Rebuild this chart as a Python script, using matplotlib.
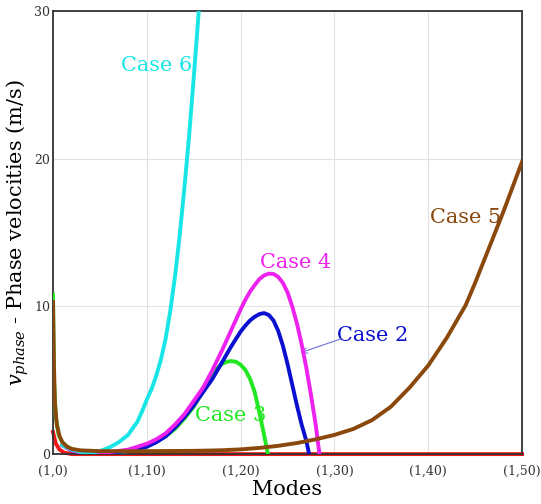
import matplotlib.pyplot as plt

plt.rcParams['font.family'] = ['DejaVu Serif']
plt.rcParams['mathtext.fontset'] = 'dejavuserif'

# mode index n of (1,n) and phase velocity (m/s)
red_x = [0, 0.3, 0.7, 1.2, 2, 50]
red_y = [1.5, 0.7, 0.3, 0.1, 0, 0]

case3_x = [0, 0.1, 0.3, 0.6, 1, 1.5, 2, 3, 4, 6, 8, 10, 12, 13, 14, 15, 16, 16.5, 17, 17.5, 18, 18.5, 19, 19.5, 20, 20.5, 21, 21.5, 22, 22.5, 22.9]
case3_y = [10.8, 5.0, 2.5, 1.3, 0.8, 0.5, 0.35, 0.15, 0.05, 0.05, 0.2, 0.5, 1.2, 1.7, 2.4, 3.2, 4.3, 4.9, 5.4, 5.8, 6.1, 6.25, 6.3, 6.25, 6.05, 5.7, 5.1, 4.2, 2.8, 1.3, 0]

case2_x = [1, 2, 3, 5, 8, 10, 11, 12, 13, 14, 15, 16, 17, 18, 19, 20, 20.5, 21, 21.5, 22, 22.5, 23, 23.5, 24, 24.5, 25, 25.5, 26, 26.5, 27, 27.3]
case2_y = [0.6, 0.25, 0.1, 0.05, 0.2, 0.5, 0.8, 1.2, 1.8, 2.5, 3.3, 4.2, 5.1, 6.2, 7.3, 8.3, 8.7, 9.05, 9.3, 9.48, 9.55, 9.42, 9.05, 8.35, 7.35, 6.1, 4.7, 3.3, 2.0, 0.9, 0]

case4_x = [1, 2, 3, 5, 8, 10, 11, 12, 13, 14, 15, 16, 17, 18, 19, 20, 20.5, 21, 21.5, 22, 22.5, 23, 23.5, 24, 24.5, 25, 25.5, 26, 26.5, 27, 27.5, 28, 28.4]
case4_y = [0.6, 0.25, 0.1, 0.05, 0.3, 0.7, 1.0, 1.4, 2.0, 2.7, 3.6, 4.5, 5.7, 7.0, 8.4, 9.8, 10.45, 11.0, 11.45, 11.85, 12.1, 12.22, 12.2, 12.0, 11.6, 10.95, 10.0, 8.85, 7.45, 5.85, 4.0, 2.0, 0]

case6_x = [1, 2, 3, 4, 5, 6, 7, 8, 9, 9.5, 10, 10.5, 11, 11.5, 12, 12.5, 13, 13.5, 14, 14.5, 15, 15.6]
case6_y = [0.6, 0.3, 0.15, 0.1, 0.2, 0.45, 0.8, 1.3, 2.2, 2.9, 3.7, 4.4, 5.3, 6.4, 7.8, 9.7, 12.0, 14.8, 18.0, 21.5, 25.5, 30.5]

case5_x = [0, 0.1, 0.2, 0.4, 0.7, 1, 1.5, 2, 3, 5, 10, 15, 18, 20, 22, 24, 26, 28, 30, 32, 34, 36, 38, 40, 42, 44, 45, 46, 47, 48, 49, 50]
case5_y = [10.3, 6.0, 3.5, 2.0, 1.2, 0.8, 0.5, 0.35, 0.25, 0.2, 0.2, 0.22, 0.26, 0.32, 0.42, 0.56, 0.75, 1.0, 1.3, 1.7, 2.3, 3.2, 4.5, 6.0, 7.9, 10.1, 11.6, 13.2, 14.8, 16.4, 18.1, 19.8]

xticks = [0, 10, 20, 30, 40, 50]
xlabels = ['(1,0)', '(1,10)', '(1,20)', '(1,30)', '(1,40)', '(1,50)']
yticks = [0, 10, 20, 30]

fig = plt.figure(figsize=(5.41, 5.04), dpi=100)
ax = fig.add_axes([0.098, 0.099, 0.867, 0.879])

lw = 2.8
ax.plot(red_x, red_y, color='#ee1818', lw=lw, clip_on=False, zorder=2)
ax.plot(case3_x, case3_y, color='#22e822', lw=lw, zorder=3)
ax.plot(case2_x, case2_y, color='#0b0fd0', lw=lw, zorder=4)
ax.plot(case4_x, case4_y, color='#ee22ee', lw=lw, zorder=5)
ax.plot(case6_x, case6_y, color='#18e6e6', lw=lw, zorder=6)
ax.plot(case5_x, case5_y, color='#8a480c', lw=lw, zorder=7)

ax.text(11.0, 26.3, 'Case 6', color='#18e6e6', fontsize=15, ha='center', va='center')
ax.text(25.9, 13.0, 'Case 4', color='#ee22ee', fontsize=15, ha='center', va='center')
ax.text(34.1, 8.0, 'Case 2', color='#0b0fd0', fontsize=15, ha='center', va='center')
ax.text(18.9, 2.6, 'Case 3', color='#22e822', fontsize=15, ha='center', va='center')
ax.text(44.0, 16.0, 'Case 5', color='#8a480c', fontsize=15, ha='center', va='center')
ax.annotate('', xy=(26.1, 6.8), xytext=(30.9, 7.85),
            arrowprops=dict(arrowstyle='->', color='#7070d8', lw=0.8))

ax.set_xlim(0, 50)
ax.set_ylim(0, 30)
ax.set_xticks(xticks)
ax.set_xticklabels(xlabels)
ax.set_yticks(yticks)
ax.tick_params(length=0, labelsize=9, labelcolor='#333333')
ax.tick_params(axis='x', pad=8)
ax.tick_params(axis='y', pad=2)
ax.grid(True, color='#e2e2e2', lw=0.8)
ax.set_axisbelow(True)
for s in ax.spines.values():
    s.set_color('#333333')
    s.set_linewidth(1.3)

ax.set_xlabel('Modes', fontsize=15)
ax.xaxis.set_label_coords(0.5, -0.058)
ax.set_ylabel(r'$v_{phase}$ - Phase velocities (m/s)', fontsize=15)
ax.yaxis.set_label_coords(-0.047, 0.5)

fig.savefig('out.png', dpi=100)
